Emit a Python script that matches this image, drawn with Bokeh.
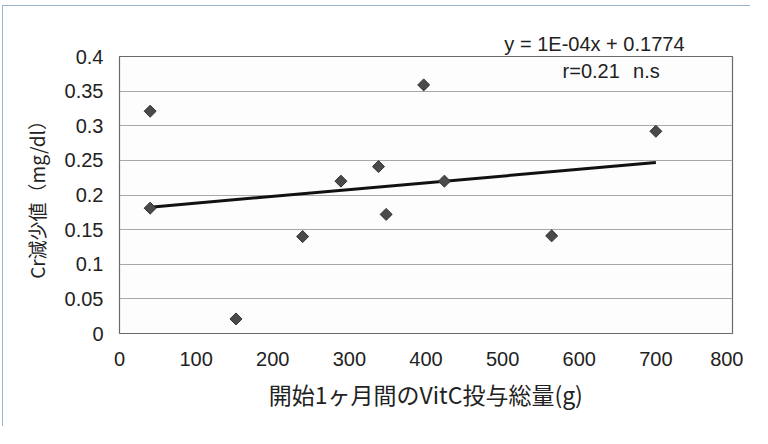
import numpy as np
from bokeh.plotting import figure
from bokeh.models import Label, FixedTicker, Range1d, Title
from bokeh.embed import file_html
from bokeh.resources import INLINE

# data
vitc_total_g = [40, 40, 152, 239, 289, 338, 348, 397, 424, 564, 700]
cr_decrease = [0.321, 0.181, 0.021, 0.140, 0.220, 0.241, 0.172, 0.359, 0.220, 0.141, 0.292]
x_ticks = [0, 100, 200, 300, 400, 500, 600, 700, 800]
y_ticks = [0, 0.05, 0.1, 0.15, 0.2, 0.25, 0.3, 0.35, 0.4]
y_tick_labels = ["0", "0.05", "0.1", "0.15", "0.2", "0.25", "0.3", "0.35", "0.4"]
equation_text = "y = 1E-04x + 0.1774"
r_text = "r=0.21"
ns_text = "n.s"
x_title = "開始1ヶ月間のVitC投与総量(g)"
y_title = "Cr減少値（mg/dl）"

FONT = "Liberation Sans"
CJK = "Noto Sans CJK JP"
TXT = "#222222"

p = figure(width=748, height=421, output_backend="svg", toolbar_location=None,
           x_range=Range1d(0, 800), y_range=Range1d(0, 0.4),
           min_border_left=116, min_border_right=19, min_border_top=50, min_border_bottom=94)
p.styles = {"margin-top": "5px", "margin-left": "2px", "padding-right": "7px",
            "border-top": "1px solid #9db3cc", "border-left": "1px solid #9db3cc"}
p.background_fill_color = "#fdfdfd"
p.border_fill_color = "white"
p.outline_line_color = "#6a6a6a"
p.outline_line_width = 1.2

p.xaxis.ticker = FixedTicker(ticks=x_ticks)
p.yaxis.ticker = FixedTicker(ticks=y_ticks)
p.yaxis.major_label_overrides = {t: l for t, l in zip(y_ticks, y_tick_labels)}
for ax in (p.xaxis, p.yaxis):
    ax.axis_line_color = None
    ax.major_tick_line_color = None
    ax.minor_tick_line_color = None
    ax.major_tick_out = 0
    ax.major_tick_in = 0
    ax.minor_tick_out = 0
    ax.minor_tick_in = 0
    ax.major_label_text_font = FONT
    ax.major_label_text_font_size = "20px"
    ax.major_label_text_color = TXT
    ax.axis_label_text_font = CJK
    ax.axis_label_text_font_style = "normal"
    ax.axis_label_text_color = TXT
p.xaxis.major_label_standoff = 18
p.yaxis.major_label_standoff = 16
p.xaxis.axis_label = x_title
p.yaxis.axis_label = y_title
p.xaxis.axis_label_text_font_size = "23px"
p.yaxis.axis_label_text_font_size = "19px"
p.xaxis.axis_label_standoff = 8
p.yaxis.axis_label_standoff = 12

p.xgrid.grid_line_color = None
p.ygrid.grid_line_color = "#a8a8a8"
p.ygrid.grid_line_width = 1.2

# trend line from least squares fit
slope, intercept = np.polyfit(vitc_total_g, cr_decrease, 1)
lx = np.array([min(vitc_total_g), max(vitc_total_g)])
p.line(lx, slope * lx + intercept, line_color="#111111", line_width=3)

p.scatter(vitc_total_g, cr_decrease, marker="square", angle=np.pi / 4, size=8.5,
          fill_color="#4a4a4a", line_color="#333333", line_width=1)

eq = Title(text=equation_text, align="right", offset=48, standoff=3,
           text_font=FONT, text_font_size="20px", text_font_style="normal",
           text_color=TXT)
p.add_layout(eq, "above")

p.add_layout(Label(x=653, y=0.379, text=r_text, text_align="right",
                   text_baseline="middle", text_font=FONT, text_font_size="20px",
                   text_color=TXT))
p.add_layout(Label(x=705, y=0.379, text=ns_text, text_align="right",
                   text_baseline="middle", text_font=FONT, text_font_size="20px",
                   text_color=TXT))

open("out.html", "w").write(file_html(p, INLINE))
